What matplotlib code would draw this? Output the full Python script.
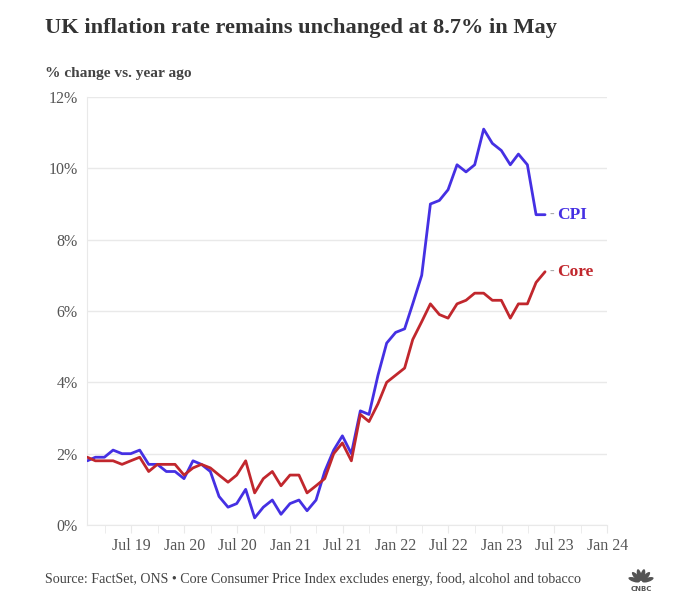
import matplotlib
matplotlib.use("Agg")
import matplotlib.pyplot as plt
from matplotlib.patches import Ellipse
import pandas as pd
import numpy as np

# ---- data ----
months = pd.date_range("2019-01-31", "2023-05-31", freq="ME")
cpi = [1.8, 1.9, 1.9, 2.1, 2.0, 2.0, 2.1, 1.7, 1.7, 1.5, 1.5, 1.3,
       1.8, 1.7, 1.5, 0.8, 0.5, 0.6, 1.0, 0.2, 0.5, 0.7, 0.3, 0.6,
       0.7, 0.4, 0.7, 1.5, 2.1, 2.5, 2.0, 3.2, 3.1, 4.2, 5.1, 5.4,
       5.5, 6.2, 7.0, 9.0, 9.1, 9.4, 10.1, 9.9, 10.1, 11.1, 10.7, 10.5,
       10.1, 10.4, 10.1, 8.7, 8.7]
core = [1.9, 1.8, 1.8, 1.8, 1.7, 1.8, 1.9, 1.5, 1.7, 1.7, 1.7, 1.4,
        1.6, 1.7, 1.6, 1.4, 1.2, 1.4, 1.8, 0.9, 1.3, 1.5, 1.1, 1.4,
        1.4, 0.9, 1.1, 1.3, 2.0, 2.3, 1.8, 3.1, 2.9, 3.4, 4.0, 4.2,
        4.4, 5.2, 5.7, 6.2, 5.9, 5.8, 6.2, 6.3, 6.5, 6.5, 6.3, 6.3,
        5.8, 6.2, 6.2, 6.8, 7.1]
series_names = ["CPI", "Core"]
series_colors = ["#4530E3", "#C1272D"]
y_ticks = [0, 2, 4, 6, 8, 10, 12]
x_tick_dates = pd.date_range("2019-07-01", "2024-01-01", freq="6MS")
x_tick_labels = ["Jul 19", "Jan 20", "Jul 20", "Jan 21", "Jul 21", "Jan 22",
                 "Jul 22", "Jan 23", "Jul 23", "Jan 24"]
x_minor_dates = pd.date_range("2019-04-01", "2024-01-01", freq="3MS")

title = "UK inflation rate remains unchanged at 8.7% in May"
subtitle = "% change vs. year ago"
source = "Source: FactSet, ONS \u2022 Core Consumer Price Index excludes energy, food, alcohol and tobacco"

plt.rcParams["font.family"] = ["Liberation Serif", "DejaVu Serif"]

W, H = 689, 606
fig = plt.figure(figsize=(W / 100, H / 100), dpi=100)
fig.patch.set_facecolor("white")

left, right, top, bottom = 87.3, 607.3, 97, 525
ax = fig.add_axes([left / W, 1 - bottom / H, (right - left) / W, (bottom - top) / H])

grid_c = "#e9e9e9"
for vals, name, col in zip([cpi, core], series_names, series_colors):
    ax.plot(months, vals, color=col, lw=2.0, solid_joinstyle="round", solid_capstyle="round", zorder=3)
    ax.annotate("-", xy=(months[-1], vals[-1]), xytext=(3.2, 0), textcoords="offset points",
                va="center", ha="left", color="#aaaaaa", fontsize=10)
    ax.annotate(name, xy=(months[-1], vals[-1]), xytext=(9, 0), textcoords="offset points",
                va="center", ha="left", color=col, fontsize=12.5, fontweight="bold")

ax.set_xlim(months[0], pd.Timestamp("2024-01-01"))
ax.set_ylim(0, 12)
ax.set_yticks(y_ticks)
ax.set_yticklabels([f"{v}%" for v in y_ticks])
ax.set_xticks(x_tick_dates)
ax.set_xticklabels(x_tick_labels)
ax.set_xticks(x_minor_dates, minor=True)

ax.grid(axis="y", color=grid_c, lw=1)
ax.set_axisbelow(True)
for s in ["top", "right"]:
    ax.spines[s].set_visible(False)
ax.spines["left"].set_color(grid_c)
ax.spines["bottom"].set_color(grid_c)
ax.tick_params(axis="y", length=0, pad=7, labelsize=11.5, labelcolor="#555555")
ax.tick_params(axis="x", which="both", length=6, color=grid_c, pad=3, labelsize=11.5, labelcolor="#555555")

fig.text(45 / W, 1 - 28 / H, title, fontsize=16.1, fontweight="bold", color="#333333", va="center", ha="left")
fig.text(45 / W, 1 - 74 / H, subtitle, fontsize=11.1, fontweight="bold", color="#444444", va="center", ha="left")
fig.text(45 / W, 1 - 579 / H, source, fontsize=10.05, color="#444444", va="center", ha="left")

# CNBC logo (peacock feathers + wordmark)
lax = fig.add_axes([626 / W, 1 - 594 / H, 30 / W, 30 / H])
lax.set_xlim(-1.25, 1.25)
lax.set_ylim(-1.0, 1.5)
lax.set_aspect("equal", adjustable="datalim")
lax.axis("off")
for ang in [162, 132, 104, 76, 48, 18]:
    r = np.deg2rad(ang)
    lax.add_patch(Ellipse((0.6 * np.cos(r), 0.6 * np.sin(r)), 1.0, 0.36, angle=ang,
                          color="#555555", lw=0))
lax.text(0, -0.62, "CNBC", ha="center", va="center", fontsize=5, fontweight="bold",
         color="#555555", family="DejaVu Sans")

fig.savefig("out.png", dpi=100, facecolor="white")
